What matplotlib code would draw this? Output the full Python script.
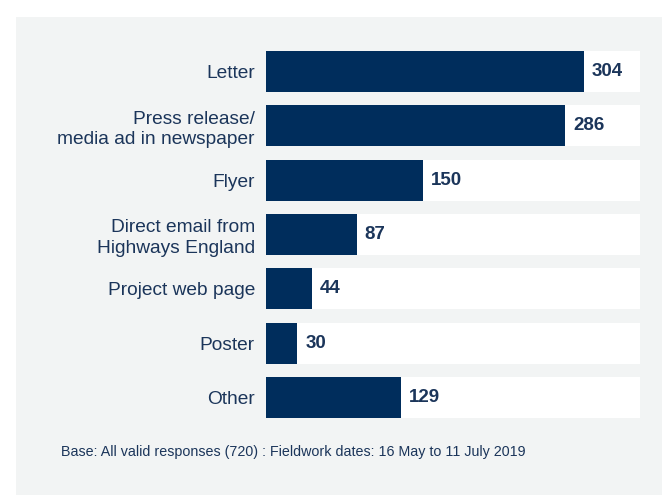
import matplotlib.pyplot as plt
from matplotlib.patches import Rectangle

categories = ['Letter', 'Press release/\nmedia ad in newspaper', 'Flyer',
              'Direct email from\nHighways England', 'Project web page',
              'Poster', 'Other']
counts = [304, 286, 150, 87, 44, 30, 129]
x_max = 357.5
footnote = 'Base: All valid responses (720) : Fieldwork dates: 16 May to 11 July 2019'

navy = '#002d5c'
text_col = '#1b355a'
panel_col = '#f2f4f4'

plt.rcParams['font.family'] = ['Liberation Sans', 'DejaVu Sans']

W, H = 662, 495
fig = plt.figure(figsize=(W / 100, H / 100), dpi=100)
fig.patch.set_facecolor('white')
bg = Rectangle((16 / W, 0), 1 - 16 / W, 1 - 17 / H,
               transform=fig.transFigure, facecolor=panel_col,
               edgecolor='none', zorder=-10)
fig.add_artist(bg)

ax = fig.add_axes([266 / W, 1 - 418 / H, (640 - 266) / W, (418 - 51) / H])
ax.set_zorder(5)
ax.set_facecolor('none')
pos = list(range(len(categories)))
bh = 0.755
ax.barh(pos, [x_max] * len(pos), height=bh, color='white', zorder=1)
ax.barh(pos, counts, height=bh, color=navy, zorder=2)
for p, v in zip(pos, counts):
    ax.text(v + 7.5, p, str(v), va='center', ha='left', fontsize=13.5,
            fontweight='bold', color=text_col, zorder=3)

ax.set_xlim(0, x_max)
ax.set_ylim(len(pos) - 1 + bh / 2, -bh / 2)
ax.set_yticks(pos)
ax.set_yticklabels(categories, fontsize=13.8, color=text_col, linespacing=1.25)
ax.tick_params(axis='y', length=0, pad=8)
ax.set_xticks([])
for s in ax.spines.values():
    s.set_visible(False)

fig.text(61 / W, 1 - 452 / H, footnote, fontsize=10.3, color=text_col,
         va='center', ha='left', zorder=6)

fig.savefig('out.png', dpi=100)
